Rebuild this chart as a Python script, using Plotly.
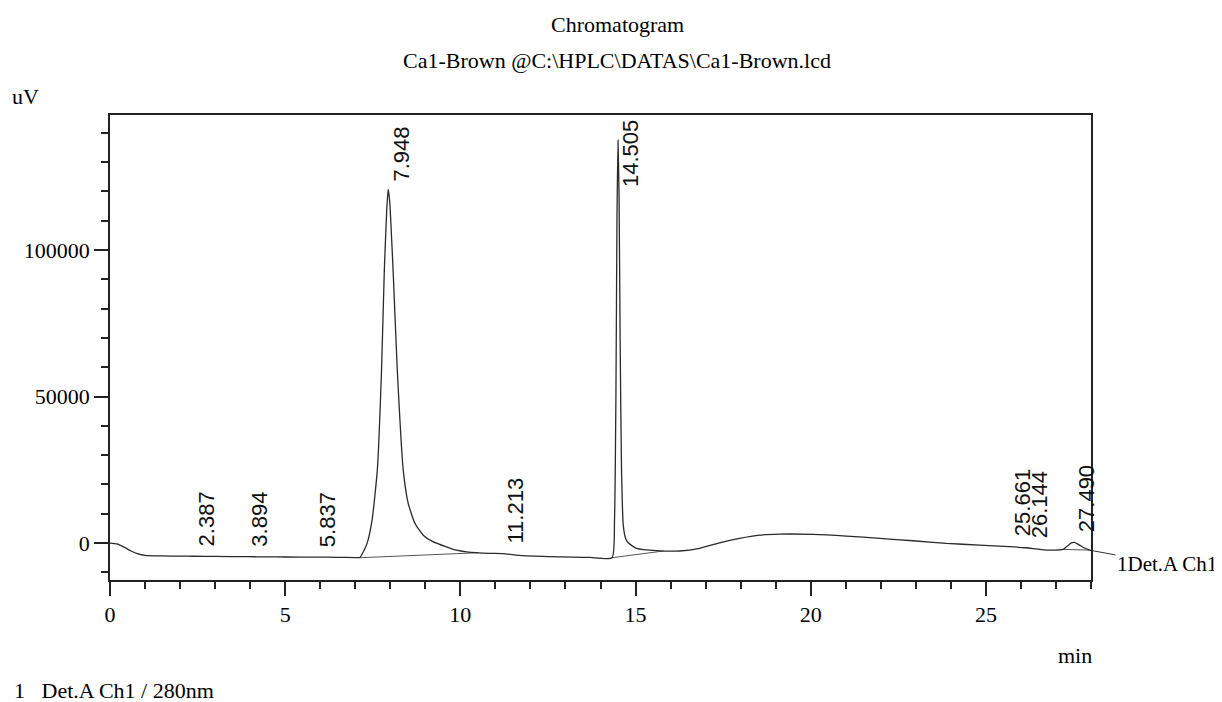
import numpy as np
import plotly.graph_objects as go

# retention time (min) / detector signal (uV)
time_min = [0, 0.2, 0.4, 0.6, 0.8, 1.0, 1.5, 2.0, 2.387, 3.0, 3.894, 4.5, 5.0, 5.837,
            6.5, 7.0, 7.13, 7.25, 7.34, 7.48, 7.63, 7.75, 7.83, 7.90, 7.94, 7.98,
            8.08, 8.20, 8.37, 8.51, 8.70, 8.94, 9.20, 9.6, 9.89, 10.18, 10.84,
            11.213, 11.79, 12.5, 13.2, 13.7, 14.33, 14.40, 14.44, 14.47, 14.50,
            14.53, 14.56, 14.60, 14.65, 14.72, 14.80, 15.03, 15.6, 16.26, 16.83,
            17.4, 17.97, 18.55, 19.12, 20.07, 21.02, 21.97, 22.92, 23.87, 24.82,
            25.661, 26.144, 26.72, 27.2, 27.35, 27.44, 27.53, 27.67, 27.8, 27.96, 28.0]
signal_uv = [0, -300, -1400, -2700, -3700, -4200, -4400, -4450, -4500, -4550, -4650,
             -4700, -4750, -4800, -4850, -4950, -4900, -2500, 0, 7850, 24900, 59000,
             93200, 114000, 120700, 117000, 93200, 59000, 24900, 13650, 6800, 2700,
             600, -1260, -2400, -2970, -3500, -3600, -4300, -4600, -4800, -4900,
             -5000, 8000, 50000, 110000, 137500, 118000, 70000, 25000, 6000, 1500,
             0, -1800, -2600, -2700, -1800, 100, 1600, 2700, 3070, 2970, 2400, 1600,
             800, -100, -680, -1200, -1600, -2400, -2150, -800, 100, 240, -680,
             -1600, -2400, -2500]

# integration baselines drawn under the main peaks
base_t = [7.13, 10.5, None, 14.33, 15.8, None, 27.2, 27.96]
base_v = [-5000, -3300, None, -5000, -2700, None, -2150, -2400]

peak_rt = [2.387, 3.894, 5.837, 7.948, 11.213, 14.505, 25.661, 26.144, 27.490]
peak_labels = ["2.387", "3.894", "5.837", "7.948", "11.213", "14.505", "25.661", "26.144", "27.490"]

SERIF = "Liberation Serif"
SANS = "Liberation Sans"

# the page body has an 8px margin, so the figure is laid out 8px in
OFF = 8
L, R, T, B = 110 - OFF, 1091 - OFF, 115 - OFF, 580 - OFF
W, H = 1222 - OFF, 702 - OFF


def px(x):
    # reference-picture x -> paper fraction
    return (x - OFF - L) / (R - L)


def py(y):
    return (B - (y - OFF)) / (B - T)


fig = go.Figure()
fig.add_trace(go.Scatter(x=base_t, y=base_v, mode="lines",
                         line=dict(color="#555555", width=1), hoverinfo="skip"))
fig.add_trace(go.Scatter(x=time_min, y=signal_uv, mode="lines",
                         line=dict(color="#2a2a2a", width=1.3, shape="spline", smoothing=0.5)))

heights = np.interp(peak_rt, time_min, signal_uv)
for rt, lab, h in zip(peak_rt, peak_labels, heights):
    fig.add_annotation(x=rt, y=h if h < 125000 else 118000, text=lab, showarrow=False,
                       textangle=-90, xanchor="center", yanchor="bottom",
                       xshift=13, yshift=8,
                       font=dict(family=SANS, size=22, color="#111111"))

# channel label with pointer from the end of the trace
fig.add_annotation(x=time_min[-1], y=signal_uv[-1], text="1Det.A Ch1",
                   showarrow=True, arrowhead=0, arrowwidth=1, arrowcolor="#333333",
                   ax=76, ay=14, xanchor="center",
                   font=dict(family=SERIF, size=21, color="black"))

texts = [
    ("Chromatogram", 617, 25, "center"),
    ("Ca1-Brown @C:\\HPLC\\DATAS\\Ca1-Brown.lcd", 617, 60, "center"),
    ("uV", 10, 97, "left"),
    ("min", 1075, 655, "center"),
    ("1\u00a0\u00a0\u00a0Det.A Ch1 / 280nm", 12, 690, "left"),
]
for txt, x, y, anc in texts:
    fig.add_annotation(xref="paper", yref="paper", x=px(x), y=py(y),
                       xanchor=anc, yanchor="middle", text=txt, showarrow=False,
                       font=dict(family=SERIF, size=22, color="black"))

fig.update_xaxes(
    range=[0, 28],
    tickvals=[0, 5, 10, 15, 20, 25],
    ticks="outside", ticklen=14, tickwidth=1.5, tickcolor="#222222",
    minor=dict(dtick=1, ticks="outside", ticklen=7, tickwidth=1.5, tickcolor="#222222"),
    showline=True, linecolor="#222222", linewidth=1.5, mirror=True,
    showgrid=False, zeroline=False,
    tickfont=dict(family=SERIF, size=22, color="black"),
)
fig.update_yaxes(
    range=[-12600, 146100],
    tickvals=[0, 50000, 100000],
    ticks="outside", ticklen=14, tickwidth=1.5, tickcolor="#222222",
    minor=dict(dtick=10000, ticks="outside", ticklen=7, tickwidth=1.5, tickcolor="#222222"),
    showline=True, linecolor="#222222", linewidth=1.5, mirror=True,
    showgrid=False, zeroline=False,
    tickformat="d",
    tickfont=dict(family=SERIF, size=22, color="black"),
)

fig.update_layout(
    showlegend=False,
    plot_bgcolor="white",
    paper_bgcolor="white",
    margin=dict(l=L, r=W - R, t=T, b=H - B),
    width=W,
    height=H,
)
fig.write_html("out.html")
